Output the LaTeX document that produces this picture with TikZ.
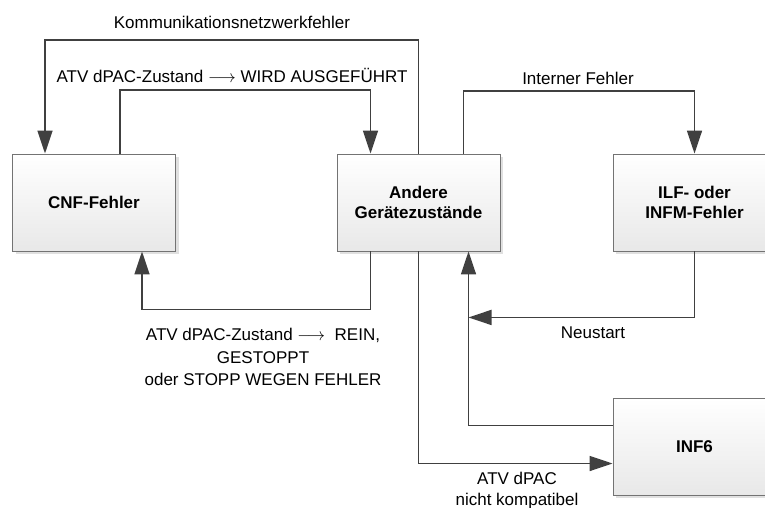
\documentclass[tikz,border=0pt]{standalone}
\usepackage{fontspec}
\setmainfont{Liberation Sans}
\usetikzlibrary{arrows.meta,shadows}

\tikzset{
  zustand/.style={draw=black!55, line width=0.9pt, minimum width=163pt, minimum height=97pt,
    top color=white, bottom color=black!9,
    drop shadow={shadow xshift=3pt, shadow yshift=-3pt, fill=black!12, opacity=1},
    font=\bfseries\fontsize{17}{20}\selectfont, align=center},
  pfeil/.style={draw=black!75, line width=1.7pt, -{Triangle[length=23pt,width=15pt]}},
  etikett/.style={font=\fontsize{17}{22.5}\selectfont, align=center, inner sep=0pt},
}

\begin{document}
\begin{tikzpicture}[x=1pt,y=-1pt]
    \useasboundingbox (0,0) rectangle (765,508);

    % states
    \node[zustand] (cnf) at (94,202.5) {CNF-Fehler};
    \node[zustand] (andere) at (418.5,202.5) {Andere\\Gerätezustände};
    \node[zustand] (ilf) at (694.5,202.5) {ILF- oder\\INFM-Fehler};
    \node[zustand] (inf) at (694.5,446.5) {INF6};

    % transitions on top
    \draw[pfeil] (andere.north) -- ++(0,-113.3) -| ([xshift=-49pt]cnf.north);
    \draw[pfeil] ([xshift=26pt]cnf.north) -- ++(0,-63.3) -| ([xshift=-48pt]andere.north);
    \draw[pfeil] ([xshift=45pt]andere.north) -- ++(0,-62.3) -| (ilf.north);

    % transitions below
    \draw[pfeil] ([xshift=-48pt]andere.south) -- ++(0,58) -| ([xshift=48pt]cnf.south);
    \draw[pfeil] (andere.south) |- ([yshift=-17pt]inf.west);
    \draw[pfeil] ([yshift=21pt]inf.west) -| ([xshift=50pt]andere.south);
    \draw[pfeil] (ilf.south) |- ([shift={(50pt,-66pt)}]andere.south);

    % labels
    \node[etikett] (kom) at (232,22) {Kommunikationsnetzwerkfehler};
    \node[etikett] (lauf) at (232,75) {ATV dPAC-Zustand $\longrightarrow$ WIRD AUSGEFÜHRT};
    \node[etikett] (intern) at (578,78) {Interner Fehler};
    \node[etikett] (stopp) at (263,357) {ATV dPAC-Zustand $\longrightarrow$\ \ REIN,\\GESTOPPT\\ oder STOPP WEGEN FEHLER};
    \node[etikett] (neu) at (593,333) {Neustart};
    \node[etikett, font=\fontsize{17}{21}\selectfont] (inkomp) at (517,491) {ATV dPAC\\nicht kompatibel};
\end{tikzpicture}
\end{document}
